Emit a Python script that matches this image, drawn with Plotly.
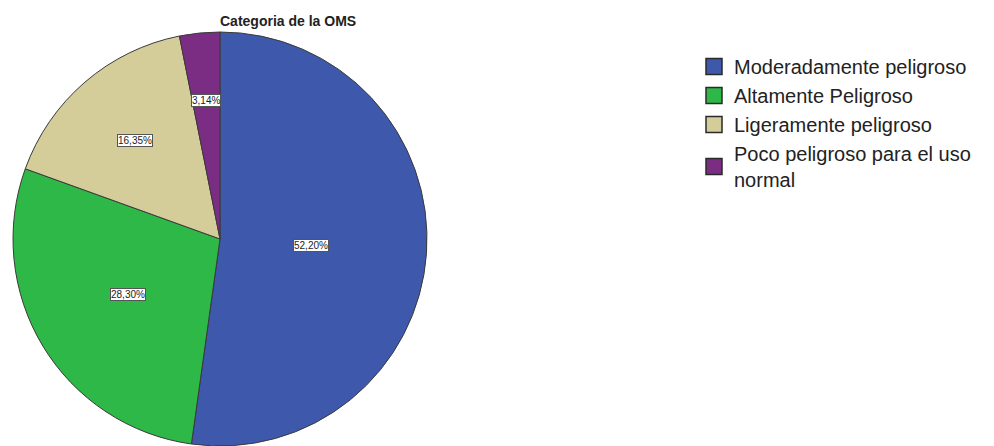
import math
import plotly.graph_objects as go

# WHO toxicity categories and their share of products
categories = [
    "Moderadamente peligroso",
    "Altamente Peligroso",
    "Ligeramente peligroso",
    "Poco peligroso para el uso<br>normal",
]
percentages = [52.20, 28.30, 16.35, 3.14]
slice_colors = ["#3E58AC", "#2EB848", "#D4CC99", "#7B2C83"]
# how far out (fraction of radius) each value box sits
label_radius = [0.44, 0.52, 0.63, 0.67]

FONT = "Arial, Liberation Sans, sans-serif"
W, H = 994, 446
pie_x = [13 / W, 427 / W]
pie_y = [0.0, 414 / H]

fig = go.Figure()
fig.add_trace(go.Pie(
    labels=categories,
    values=percentages,
    marker=dict(colors=slice_colors, line=dict(color="#3a3a3a", width=1)),
    sort=False,
    direction="clockwise",
    rotation=0,
    textinfo="none",
    hoverinfo="label+percent",
    showlegend=False,
    domain=dict(x=pie_x, y=pie_y),
))

# legend entries with larger square swatches
for name, col in zip(categories, slice_colors):
    fig.add_trace(go.Scatter(
        x=[None], y=[None], mode="markers", name=name,
        marker=dict(symbol="square", size=16, color=col,
                    line=dict(color="#2a2a2a", width=1.5)),
        hoverinfo="skip",
    ))

# value boxes placed along each slice's bisector
cx_px = (pie_x[0] + pie_x[1]) / 2 * W
cy_px = H - (pie_y[0] + pie_y[1]) / 2 * H
radius = min((pie_x[1] - pie_x[0]) * W, (pie_y[1] - pie_y[0]) * H) / 2
total = sum(percentages)
cum = 0.0
for val, rf in zip(percentages, label_radius):
    mid = (cum + val / 2) / total * 2 * math.pi
    cum += val
    px = cx_px + rf * radius * math.sin(mid)
    py = cy_px - rf * radius * math.cos(mid)
    fig.add_annotation(
        x=px / W, y=1 - py / H, xref="paper", yref="paper",
        xanchor="center", yanchor="middle",
        text=f"{val:.2f}%".replace(".", ","),
        showarrow=False,
        font=dict(family=FONT, size=10, color="#222"),
        bgcolor="white", bordercolor="#555", borderwidth=1, borderpad=0,
    )

fig.add_annotation(
    x=288 / W, y=1 - 21 / H, xref="paper", yref="paper",
    xanchor="center", yanchor="middle",
    text="<b>Categoria de la OMS</b>", showarrow=False,
    font=dict(family=FONT, size=14, color="#222"),
)

fig.update_layout(
    width=W, height=H,
    margin=dict(l=0, r=0, t=0, b=0),
    paper_bgcolor="white",
    plot_bgcolor="white",
    showlegend=True,
    xaxis=dict(visible=False, domain=[0.99, 1.0]),
    yaxis=dict(visible=False, domain=[0.99, 1.0]),
    legend=dict(
        x=694 / W, y=1 - 47 / H, xanchor="left", yanchor="top",
        font=dict(family=FONT, size=20, color="#222"),
        tracegroupgap=0, itemwidth=30,
        bgcolor="rgba(0,0,0,0)",
    ),
)

fig.write_html("out.html")
